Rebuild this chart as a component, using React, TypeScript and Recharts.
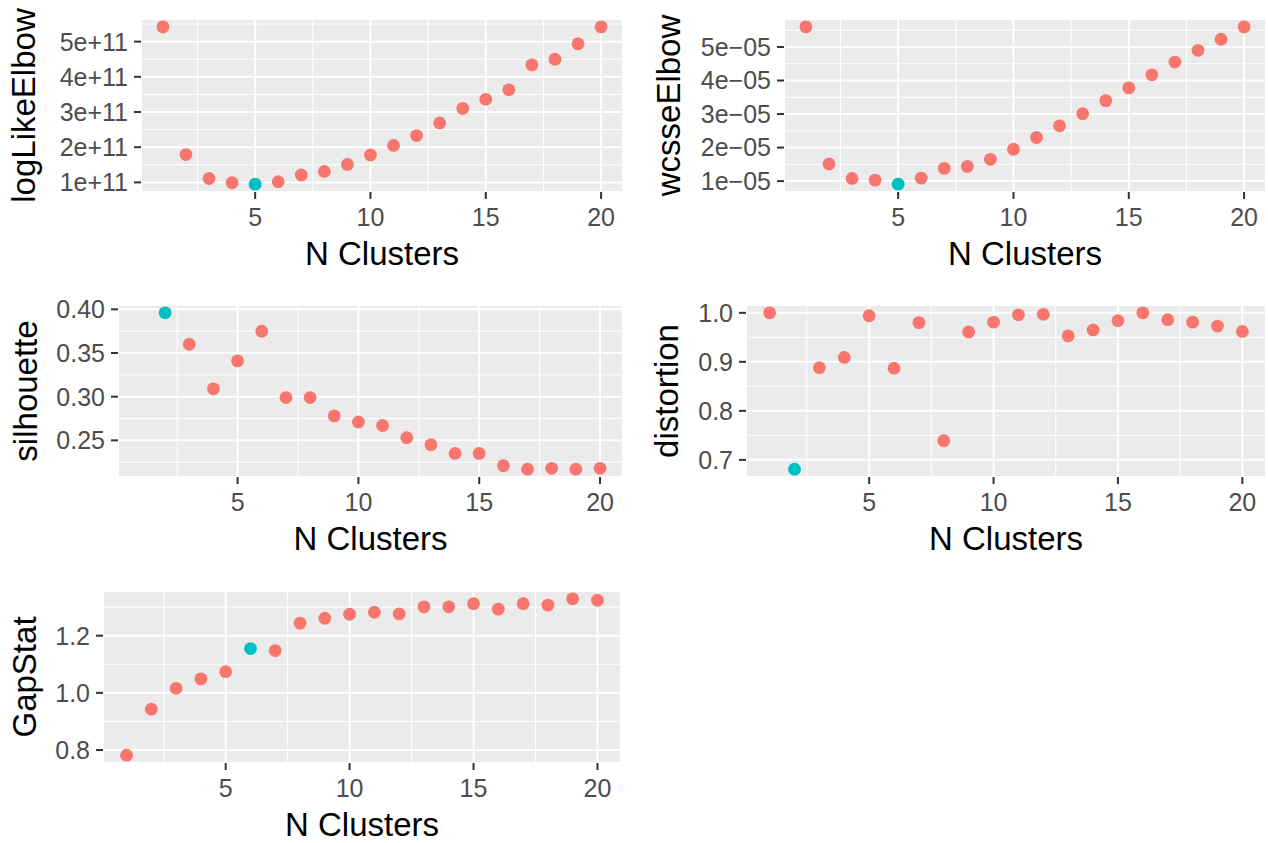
import React from 'react';
import { ScatterChart, Scatter, XAxis, YAxis, CartesianGrid, ReferenceLine } from 'recharts';

const FONT = '"Liberation Sans", Arial, Helvetica, sans-serif';
const RED = '#F8766D';
const CYAN = '#00BFC4';
const TICK_SIZE = 25;
const TITLE_SIZE = 33;

// number of clusters
const kAll = [1, 2, 3, 4, 5, 6, 7, 8, 9, 10, 11, 12, 13, 14, 15, 16, 17, 18, 19, 20];
const kFrom2 = [2, 3, 4, 5, 6, 7, 8, 9, 10, 11, 12, 13, 14, 15, 16, 17, 18, 19, 20];
const xTicks = [5, 10, 15, 20];

// logLikeElbow
const logLikeElbow = [
  5.42e11, 1.79e11, 1.11e11, 0.99e11, 0.95e11, 1.02e11, 1.21e11, 1.31e11, 1.51e11, 1.78e11,
  2.05e11, 2.33e11, 2.69e11, 3.1e11, 3.36e11, 3.63e11, 4.34e11, 4.5e11, 4.94e11, 5.42e11,
];
const logLikeTicks = [1e11, 2e11, 3e11, 4e11, 5e11];
const logLikeLabels = ['1e+11', '2e+11', '3e+11', '4e+11', '5e+11'];

// wcsseElbow
const wcsseElbow = [
  5.6e-5, 1.51e-5, 1.08e-5, 1.03e-5, 0.91e-5, 1.09e-5, 1.38e-5, 1.44e-5, 1.65e-5, 1.95e-5,
  2.3e-5, 2.65e-5, 3.01e-5, 3.4e-5, 3.78e-5, 4.17e-5, 4.55e-5, 4.9e-5, 5.23e-5, 5.6e-5,
];
const wcsseTicks = [1e-5, 2e-5, 3e-5, 4e-5, 5e-5];
const wcsseLabels = ['1e\u221205', '2e\u221205', '3e\u221205', '4e\u221205', '5e\u221205'];

// silhouette (k = 2..20)
const silhouette = [
  0.396, 0.36, 0.309, 0.341, 0.375, 0.299, 0.299, 0.278, 0.271, 0.267,
  0.253, 0.245, 0.235, 0.235, 0.221, 0.217, 0.218, 0.217, 0.218,
];
const silhouetteTicks = [0.25, 0.3, 0.35, 0.4];
const silhouetteLabels = ['0.25', '0.30', '0.35', '0.40'];

// distortion
const distortion = [
  1.0, 0.681, 0.888, 0.909, 0.994, 0.887, 0.98, 0.739, 0.961, 0.981,
  0.996, 0.997, 0.953, 0.965, 0.984, 1.0, 0.986, 0.981, 0.973, 0.962,
];
const distortionTicks = [0.7, 0.8, 0.9, 1.0];
const distortionLabels = ['0.7', '0.8', '0.9', '1.0'];

// GapStat
const gapStat = [
  0.782, 0.943, 1.016, 1.049, 1.074, 1.155, 1.148, 1.244, 1.261, 1.275,
  1.282, 1.276, 1.301, 1.301, 1.312, 1.293, 1.312, 1.307, 1.329, 1.324,
];
const gapTicks = [0.8, 1.0, 1.2];
const gapLabels = ['0.8', '1.0', '1.2'];

// ggplot-style 5% expansion of the data range
const expand = (vals: number[]): [number, number] => {
  const lo = Math.min(...vals);
  const hi = Math.max(...vals);
  const pad = (hi - lo) * 0.05;
  return [lo - pad, hi + pad];
};

// minor breaks halfway between major breaks, kept inside the limits
const minorBreaks = (ticks: number[], dom: [number, number]) => {
  const step = ticks[1] - ticks[0];
  const out: number[] = [ticks[0] - step / 2];
  ticks.forEach((t) => out.push(t + step / 2));
  return out.filter((m) => m > dom[0] && m < dom[1]);
};

const dot = (fill: string) => (props: any) => (
  <circle cx={props.cx} cy={props.cy} r={6.4} fill={fill} />
);

interface PanelProps {
  ks: number[];
  values: number[];
  best: number;
  yTicks: number[];
  yLabels: string[];
  title: string;
  left: number;
  top: number;
  width: number;
  axisW: number;
  right: number;
  plotH: number;
  titleX: number;
}

const MARGIN_TOP = 19;
const XAXIS_H = 80;

const Panel: React.FC<PanelProps> = ({
  ks, values, best, yTicks, yLabels, title, left, top, width, axisW, right, plotH, titleX,
}) => {
  const points = ks.map((k, i) => ({ k, v: values[i] }));
  const normal = points.filter((p) => p.k !== best);
  const chosen = points.filter((p) => p.k === best);
  const xDom = expand(kAll);
  const yDom = expand(values);
  const xMinor = minorBreaks(xTicks, xDom);
  const yMinor = minorBreaks(yTicks, yDom);
  const height = MARGIN_TOP + plotH + XAXIS_H;

  const yTitle = (props: any) => {
    const vb = props.viewBox || { x: 0, y: MARGIN_TOP, width: axisW, height: plotH };
    const x = vb.x + titleX;
    const y = vb.y + vb.height / 2;
    return (
      <text
        x={x}
        y={y}
        transform={`rotate(-90 ${x} ${y})`}
        textAnchor="middle"
        dominantBaseline="central"
        fontSize={TITLE_SIZE}
        fontFamily={FONT}
        fill="#000"
      >
        {title}
      </text>
    );
  };

  const xTitle = (props: any) => {
    const vb = props.viewBox || { x: axisW, y: MARGIN_TOP + plotH, width: width - axisW - right, height: XAXIS_H };
    return (
      <text
        x={vb.x + vb.width / 2}
        y={vb.y + 73}
        textAnchor="middle"
        fontSize={TITLE_SIZE}
        fontFamily={FONT}
        fill="#000"
      >
        N Clusters
      </text>
    );
  };

  return (
    <div style={{ position: 'absolute', left, top }}>
      <ScatterChart width={width} height={height} margin={{ top: MARGIN_TOP, right, bottom: 0, left: 0 }}>
        <CartesianGrid fill="#EBEBEB" fillOpacity={1} stroke="#FFFFFF" strokeWidth={2} />
        {xMinor.map((m) => (
          <ReferenceLine key={`xm${m}`} x={m} stroke="#FFFFFF" strokeWidth={1} />
        ))}
        {yMinor.map((m) => (
          <ReferenceLine key={`ym${m}`} y={m} stroke="#FFFFFF" strokeWidth={1} />
        ))}
        <XAxis
          type="number"
          dataKey="k"
          domain={xDom}
          ticks={xTicks}
          interval={0}
          allowDataOverflow
          axisLine={false}
          tickLine={{ stroke: '#333333', strokeWidth: 2 }}
          tickSize={7}
          tickMargin={9}
          tick={{ fill: '#4D4D4D', fontSize: TICK_SIZE, fontFamily: FONT }}
          height={XAXIS_H}
          label={{ content: xTitle }}
        />
        <YAxis
          type="number"
          dataKey="v"
          domain={yDom}
          ticks={yTicks}
          interval={0}
          allowDataOverflow
          axisLine={false}
          tickLine={{ stroke: '#333333', strokeWidth: 2 }}
          tickSize={7}
          tickMargin={6}
          tick={{ fill: '#4D4D4D', fontSize: TICK_SIZE, fontFamily: FONT }}
          tickFormatter={(v: number, i: number) => yLabels[i] ?? String(v)}
          width={axisW}
          label={{ content: yTitle }}
        />
        <Scatter data={normal} shape={dot(RED)} fill={RED} isAnimationActive={false} />
        <Scatter data={chosen} shape={dot(CYAN)} fill={CYAN} isAnimationActive={false} />
      </ScatterChart>
    </div>
  );
};

const App: React.FC = () => (
  <div
    style={{
      position: 'absolute',
      left: 0,
      top: 0,
      width: 1268,
      height: 843,
      background: '#FFFFFF',
      fontFamily: FONT,
      overflow: 'hidden',
    }}
  >
    <Panel ks={kAll} values={logLikeElbow} best={5} yTicks={logLikeTicks} yLabels={logLikeLabels}
      title="logLikeElbow" left={0} top={0} width={634} axisW={141} right={11} plotH={173} titleX={23} />
    <Panel ks={kAll} values={wcsseElbow} best={5} yTicks={wcsseTicks} yLabels={wcsseLabels}
      title="wcsseElbow" left={634} top={0} width={634} axisW={150} right={2} plotH={173} titleX={34} />
    <Panel ks={kFrom2} values={silhouette} best={2} yTicks={silhouetteTicks} yLabels={silhouetteLabels}
      title="silhouette" left={0} top={286} width={634} axisW={118} right={11} plotH={172} titleX={25} />
    <Panel ks={kAll} values={distortion} best={2} yTicks={distortionTicks} yLabels={distortionLabels}
      title="distortion" left={634} top={286} width={634} axisW={112} right={2} plotH={172} titleX={32} />
    <Panel ks={kAll} values={gapStat} best={6} yTicks={gapTicks} yLabels={gapLabels}
      title="GapStat" left={0} top={572} width={634} axisW={103} right={13} plotH={172} titleX={24} />
  </div>
);

export default App;
